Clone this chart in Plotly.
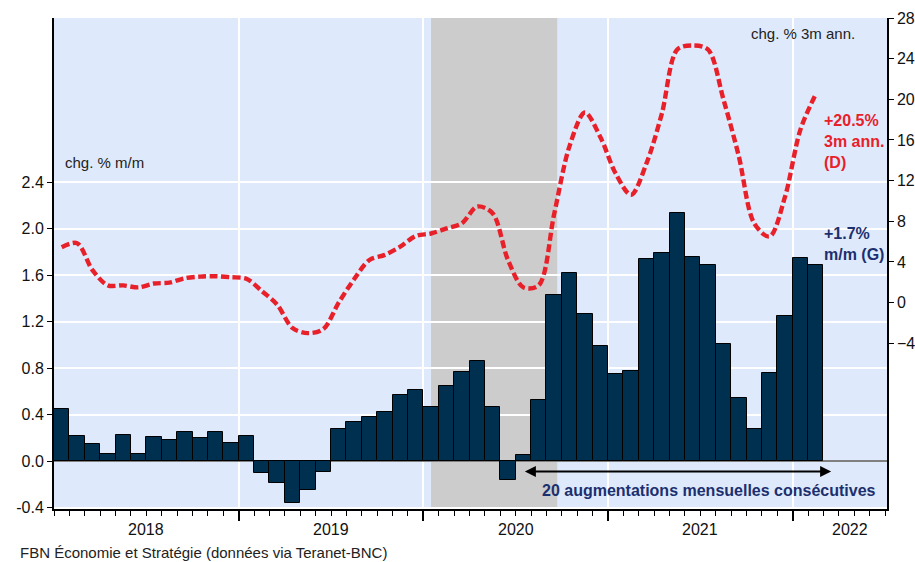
import numpy as np
import pandas as pd
import plotly.graph_objects as go

# ---------------- data ----------------
months = pd.date_range("2018-01-01", periods=50, freq="MS").strftime("%Y-%m").tolist()

# monthly change (%), left axis
mm_change = [0.45, 0.22, 0.15, 0.06, 0.23, 0.06, 0.21, 0.18, 0.25, 0.20, 0.25, 0.16,
             0.22, -0.10, -0.19, -0.36, -0.25, -0.09, 0.28, 0.34, 0.38, 0.42, 0.57, 0.61,
             0.47, 0.65, 0.77, 0.86, 0.47, -0.16, 0.05, 0.53, 1.43, 1.62, 1.27, 0.99,
             0.75, 0.78, 1.74, 1.79, 2.13, 1.76, 1.69, 1.01, 0.54, 0.28, 0.76, 1.25,
             1.75, 1.69]

# 3-month annualized change (%), right axis
ann3m_change = [5.45, 5.85, 3.2, 1.7, 1.7, 1.5, 1.88, 1.97, 2.4, 2.56, 2.6, 2.5,
                2.35, 1.15, -0.2, -2.5, -3.0, -2.6, 0.0, 2.3, 4.2, 4.7, 5.5, 6.55,
                6.8, 7.3, 7.8, 9.45, 8.8, 4.2, 1.5, 1.7, 8.7, 15.4, 18.7, 16.3,
                12.7, 10.6, 13.7, 18.6, 24.9, 25.3, 24.9, 20.0, 14.4, 7.8, 6.5, 10.4,
                17.0, 20.5]

year_labels = ["2018", "2019", "2020", "2021", "2022"]
left_ticks = [-0.4, 0.0, 0.4, 0.8, 1.2, 1.6, 2.0, 2.4]
right_ticks = [-4, 0, 4, 8, 12, 16, 20, 24, 28]

shade_start_month = "2020-01"
shade_end_month = "2020-09"

streak_start_month = "2020-07"
streak_length = 20

# ---------------- styling ----------------
BAR = "#00304f"
RED = "#e8202a"
NAVY = "#1c2f6e"
BG = "#deeafb"
FONT = "Liberation Sans, Arial, sans-serif"

x = np.arange(len(months))
x_min, x_max = -0.5, 53.63

fig = go.Figure()
fig.add_trace(go.Bar(
    x=x, y=mm_change, yaxis="y",
    marker=dict(color=BAR, line=dict(color="black", width=1)),
    showlegend=False,
))
fig.add_trace(go.Scatter(
    x=x, y=ann3m_change, yaxis="y2", mode="lines",
    line=dict(color=RED, width=4.4, dash="8px,3.5px", shape="spline", smoothing=0.9),
    showlegend=False,
))

# year boundaries (major ticks / grid) and year label positions
year_bounds = [12 * k - 0.5 for k in range(1, len(year_labels))]
year_pos = [12 * k + 5.5 for k in range(len(year_labels) - 1)]
year_pos.append(12 * (len(year_labels) - 1) - 0.5 + 3.7)

shade_x0 = months.index(shade_start_month)
shade_x1 = months.index(shade_end_month) + 0.2

streak_x0 = months.index(streak_start_month)
streak_x1 = streak_x0 + streak_length
arrow_y = -0.088

annotations = []
for lab, pos in zip(year_labels, year_pos):
    annotations.append(dict(x=pos, y=-20 / 491, xref="x", yref="paper", text=lab,
                            showarrow=False, yanchor="middle", xanchor="center",
                            font=dict(size=16, color="#111", family=FONT)))

annotations += [
    dict(x=0.0112, y=0.7047, xref="paper", yref="paper", text="chg. % m/m",
         showarrow=False, xanchor="left", yanchor="middle",
         font=dict(size=15, color="#222", family=FONT)),
    dict(x=0.9636, y=0.9688, xref="paper", yref="paper", text="chg. % 3m ann.",
         showarrow=False, xanchor="right", yanchor="middle",
         font=dict(size=15, color="#222", family=FONT)),
    dict(x=0.922, y=0.7475, xref="paper", yref="paper",
         text="<b>+20.5%<br>3m ann.<br>(D)</b>", align="left",
         showarrow=False, xanchor="left", yanchor="middle",
         font=dict(size=16, color=RED, family=FONT)),
    dict(x=0.922, y=0.5397, xref="paper", yref="paper",
         text="<b>+1.7%<br>m/m (G)</b>", align="left",
         showarrow=False, xanchor="left", yanchor="middle",
         font=dict(size=16, color=NAVY, family=FONT)),
    dict(x=streak_x1, y=arrow_y, xref="x", yref="y",
         ax=streak_x0, ay=arrow_y, axref="x", ayref="y",
         text="", showarrow=True, arrowhead=2, arrowside="end+start",
         arrowsize=1.1, arrowwidth=2, arrowcolor="black"),
    dict(x=0.7863, y=0.0367, xref="paper", yref="paper",
         text="<b>20 augmentations mensuelles consécutives</b>",
         showarrow=False, xanchor="center", yanchor="middle",
         font=dict(size=16, color=NAVY, family=FONT)),
    dict(x=-0.0432, y=-(552 - 509) / 491, xref="paper", yref="paper",
         text="FBN Économie et Stratégie (données via Teranet-BNC)",
         showarrow=False, xanchor="left", yanchor="middle",
         font=dict(size=15, color="#222", family=FONT)),
]

fig.update_layout(
    width=915, height=562,
    margin=dict(l=54, r=28, t=18, b=53, autoexpand=False),
    paper_bgcolor="white", plot_bgcolor=BG,
    bargap=0,
    font=dict(family=FONT, size=16, color="#111"),
    xaxis=dict(
        range=[x_min, x_max], automargin=False,
        tickmode="array", tickvals=year_bounds, ticktext=[""] * len(year_bounds),
        ticks="outside", ticklen=10, tickwidth=1.5, tickcolor="black",
        showgrid=True, gridcolor="white", gridwidth=1.5,
        showline=True, linecolor="black", linewidth=2,
        zeroline=False,
        minor=dict(tick0=0.5, dtick=1, ticks="outside", ticklen=5,
                   tickwidth=1.2, tickcolor="black", showgrid=False),
    ),
    yaxis=dict(
        range=[-0.41, 3.81], automargin=False,
        tickmode="array", tickvals=left_ticks,
        ticktext=[f"{v:.1f}" for v in left_ticks],
        ticks="outside", ticklen=5, tickwidth=1.2, tickcolor="black",
        showgrid=True, gridcolor="white", gridwidth=1.5,
        showline=True, linecolor="black", linewidth=2,
        zeroline=True, zerolinecolor="#808080", zerolinewidth=1.5,
        tickfont=dict(size=16, color="#111"),
    ),
    yaxis2=dict(
        range=[-20.3, 28], overlaying="y", side="right", automargin=False,
        tickmode="array", tickvals=right_ticks,
        ticks="outside", ticklen=5, tickwidth=1.2, tickcolor="black",
        showgrid=False, zeroline=False,
        showline=True, linecolor="black", linewidth=1.5,
        tickfont=dict(size=16, color="#111"),
    ),
    shapes=[dict(type="rect", xref="x", yref="paper", x0=shade_x0, x1=shade_x1,
                 y0=0, y1=1, fillcolor="#cccccc", line=dict(width=0), layer="below")],
    annotations=annotations,
)

fig.write_html("out.html", config={"displayModeBar": False},
               post_script="document.body.style.margin='0';")
